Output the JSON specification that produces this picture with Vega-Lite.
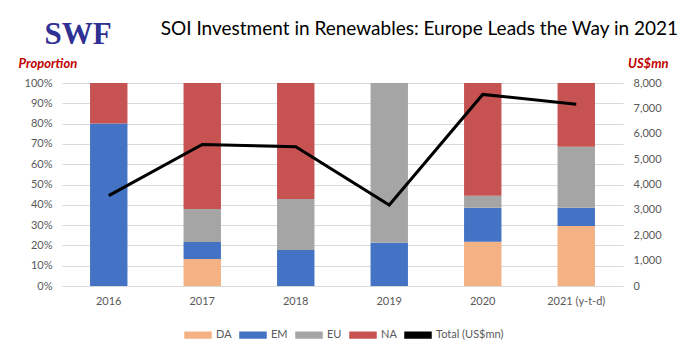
{
  "$schema": "https://vega.github.io/schema/vega-lite/v6.json",
  "width": 561,
  "height": 203,
  "autosize": {"type": "none"},
  "padding": {"left": 62, "top": 83, "right": 65, "bottom": 72},
  "background": "white",
  "config": {
    "font": "Lato",
    "view": {"stroke": null},
    "axis": {"labelColor": "#595959", "labelFontSize": 11, "labelFont": "Lato"}
  },
  "title": {
    "text": "SOI Investment in Renewables: Europe Leads the Way in 2021",
    "anchor": "end",
    "frame": "group",
    "dx": 55,
    "offset": -21,
    "fontSize": 19,
    "fontWeight": "normal",
    "color": "#000000",
    "font": "Lato"
  },
  "datasets": {
    "shares": [
      {"year": "2016", "region": "EM", "share": 0.80},
      {"year": "2016", "region": "NA", "share": 0.20},
      {"year": "2017", "region": "DA", "share": 0.133},
      {"year": "2017", "region": "EM", "share": 0.084},
      {"year": "2017", "region": "EU", "share": 0.162},
      {"year": "2017", "region": "NA", "share": 0.621},
      {"year": "2018", "region": "EM", "share": 0.177},
      {"year": "2018", "region": "EU", "share": 0.252},
      {"year": "2018", "region": "NA", "share": 0.571},
      {"year": "2019", "region": "EM", "share": 0.213},
      {"year": "2019", "region": "EU", "share": 0.787},
      {"year": "2020", "region": "DA", "share": 0.218},
      {"year": "2020", "region": "EM", "share": 0.168},
      {"year": "2020", "region": "EU", "share": 0.059},
      {"year": "2020", "region": "NA", "share": 0.555},
      {"year": "2021 (y-t-d)", "region": "DA", "share": 0.296},
      {"year": "2021 (y-t-d)", "region": "EM", "share": 0.09},
      {"year": "2021 (y-t-d)", "region": "EU", "share": 0.30},
      {"year": "2021 (y-t-d)", "region": "NA", "share": 0.314}
    ],
    "totals": [
      {"year": "2016", "total": 3560},
      {"year": "2017", "total": 5580},
      {"year": "2018", "total": 5490},
      {"year": "2019", "total": 3190},
      {"year": "2020", "total": 7550},
      {"year": "2021 (y-t-d)", "total": 7160}
    ]
  },
  "layer": [
    {
      "data": {"name": "shares"},
      "mark": {"type": "bar"},
      "encoding": {
        "x": {
          "field": "year",
          "type": "nominal",
          "sort": null,
          "scale": {"paddingInner": 0.6, "paddingOuter": 0.3},
          "axis": {
            "title": null,
            "labelAngle": 0,
            "ticks": false,
            "domainColor": "#d9d9d9",
            "labelPadding": 9,
            "grid": false
          }
        },
        "y": {
          "field": "share",
          "type": "quantitative",
          "stack": "normalize",
          "scale": {"domain": [0, 1]},
          "axis": {
            "format": ".0%",
            "values": [0, 0.1, 0.2, 0.3, 0.4, 0.5, 0.6, 0.7, 0.8, 0.9, 1],
            "domain": false,
            "ticks": false,
            "gridColor": "#d9d9d9",
            "labelPadding": 10,
            "title": "Proportion",
            "titleAngle": 0,
            "titleAlign": "left",
            "titleBaseline": "alphabetic",
            "titleX": -44,
            "titleY": -16,
            "titleColor": "#c00000",
            "titleFont": "Lato",
            "titleFontSize": 13,
            "titleFontStyle": "italic",
            "titleFontWeight": "bold"
          }
        },
        "order": {"field": "region", "sort": "ascending"},
        "color": {
          "field": "region",
          "type": "nominal",
          "scale": {
            "domain": ["DA", "EM", "EU", "NA", "Total (US$mn)"],
            "range": ["#f4b183", "#4472c4", "#a5a5a5", "#c75252", "#000000"]
          },
          "legend": {
            "title": null,
            "orient": "none",
            "legendX": 122,
            "legendY": 238,
            "direction": "horizontal",
            "symbolType": "M-1,-0.22H1V0.22H-1Z",
            "symbolSize": 676,
            "labelFontSize": 11,
            "labelColor": "#595959",
            "labelFont": "Lato",
            "columnPadding": 5
          }
        }
      }
    },
    {
      "data": {"name": "totals"},
      "mark": {"type": "line", "strokeWidth": 3, "color": "#000000"},
      "encoding": {
        "x": {
          "field": "year",
          "type": "nominal",
          "sort": null,
          "axis": {
            "orient": "top",
            "labels": false,
            "ticks": false,
            "domain": false,
            "grid": false,
            "title": "SWF",
            "titleAngle": 0,
            "titleAlign": "left",
            "titleBaseline": "alphabetic",
            "titleX": -18,
            "titleY": -40,
            "titleColor": "#2e3192",
            "titleFont": "Liberation Serif",
            "titleFontSize": 31,
            "titleFontWeight": "bold"
          }
        },
        "y": {
          "field": "total",
          "type": "quantitative",
          "scale": {"domain": [0, 8000]},
          "axis": {
            "orient": "right",
            "format": ",.0f",
            "values": [0, 1000, 2000, 3000, 4000, 5000, 6000, 7000, 8000],
            "domain": false,
            "ticks": false,
            "grid": false,
            "labelPadding": 10,
            "title": "US$mn",
            "titleAngle": 0,
            "titleAlign": "right",
            "titleBaseline": "alphabetic",
            "titleX": 45,
            "titleY": -16,
            "titleColor": "#c00000",
            "titleFont": "Lato",
            "titleFontSize": 13,
            "titleFontStyle": "italic",
            "titleFontWeight": "bold"
          }
        },
        "color": {"datum": "Total (US$mn)"}
      }
    }
  ],
  "resolve": {"scale": {"y": "independent"}, "axis": {"x": "independent"}}
}
